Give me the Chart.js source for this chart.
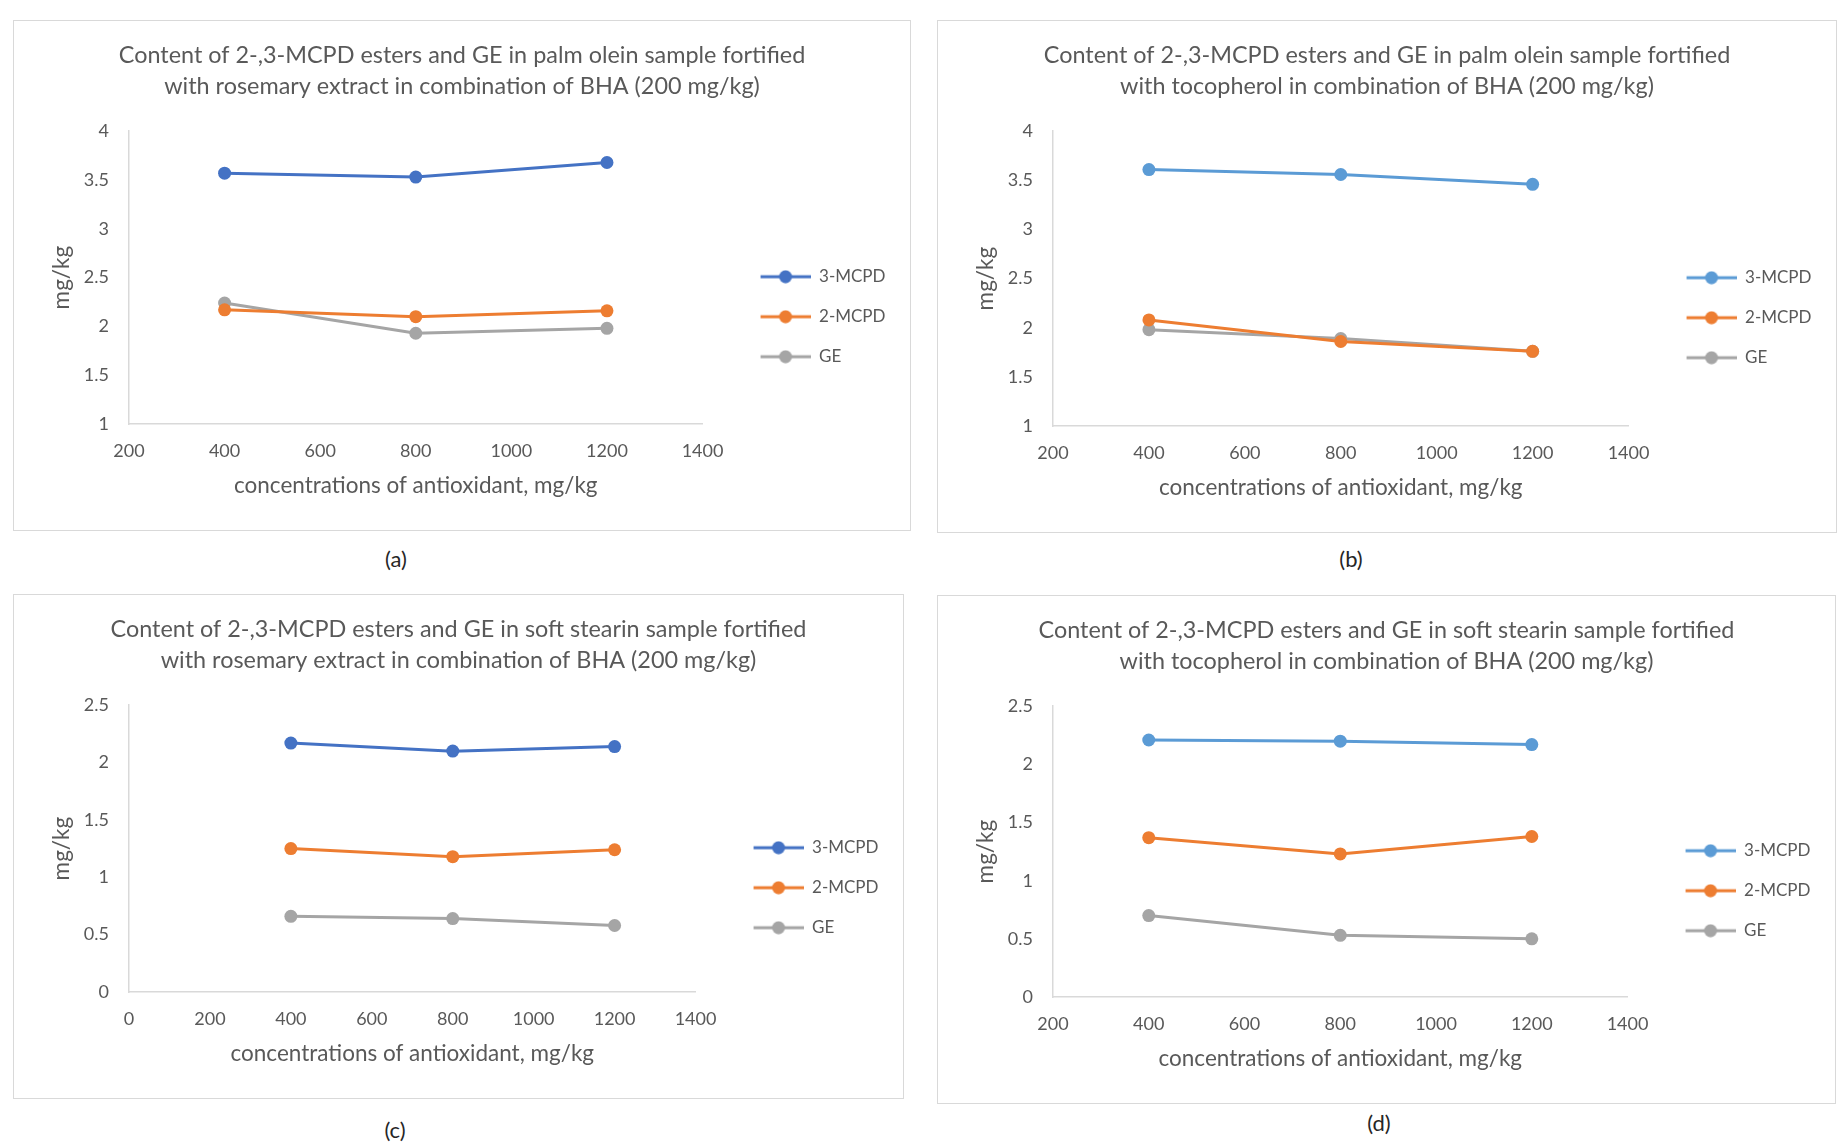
<!DOCTYPE html>
<html>
<head>
    <title>2-,3-MCPD esters and GE</title>
    <script src="https://cdn.jsdelivr.net/npm/chart.js@4.4.5/dist/chart.umd.min.js"></script>
    <style>
        body { margin: 0; background: #fff; width: 1842px; height: 1148px; position: relative; overflow: hidden; font-family: Lato, sans-serif; }
        .panel { position: absolute; border: 1px solid #d9d9d9; box-sizing: border-box; }
        .cap { position: absolute; font-size: 22px; color: #262626; transform: translate(-50%, -50%); }
    </style>
</head>
<body>
    <div class="panel" style="left:13px;top:20px;width:898px;height:511px"><canvas id="chartA"></canvas></div>
    <div class="panel" style="left:937px;top:20px;width:900px;height:513px"><canvas id="chartB"></canvas></div>
    <div class="panel" style="left:13px;top:594px;width:891px;height:505px"><canvas id="chartC"></canvas></div>
    <div class="panel" style="left:937px;top:595px;width:899px;height:509px"><canvas id="chartD"></canvas></div>
    <div class="cap" style="left:396px;top:558px">(a)</div>
    <div class="cap" style="left:1351px;top:558px">(b)</div>
    <div class="cap" style="left:395px;top:1129px">(c)</div>
    <div class="cap" style="left:1379px;top:1122px">(d)</div>

    <script>
        // x values (mg/kg antioxidant) and series names
        const concentrations = [400, 800, 1200];
        const seriesNames = ['3-MCPD', '2-MCPD', 'GE'];

        // (a) palm olein, rosemary extract + BHA
        const oleinRosemary3MCPD = [3.57, 3.53, 3.68];
        const oleinRosemary2MCPD = [2.17, 2.10, 2.16];
        const oleinRosemaryGE = [2.24, 1.93, 1.98];

        // (b) palm olein, tocopherol + BHA
        const oleinToco3MCPD = [3.61, 3.56, 3.46];
        const oleinToco2MCPD = [2.08, 1.86, 1.76];
        const oleinTocoGE = [1.98, 1.89, 1.76];

        // (c) soft stearin, rosemary extract + BHA
        const stearinRosemary3MCPD = [2.17, 2.10, 2.14];
        const stearinRosemary2MCPD = [1.25, 1.18, 1.24];
        const stearinRosemaryGE = [0.66, 0.64, 0.58];

        // (d) soft stearin, tocopherol + BHA
        const stearinToco3MCPD = [2.21, 2.20, 2.17];
        const stearinToco2MCPD = [1.37, 1.23, 1.38];
        const stearinTocoGE = [0.70, 0.53, 0.50];

        const textColor = '#595959';
        const axisColor = '#d9d9d9';

        // legend marker: line with a dot; blank space on the left keeps it away from the plot
        const iconGap = 35;
        function legendIcon(color) {
            const c = document.createElement('canvas');
            c.width = iconGap + 50; c.height = 14;
            const g = c.getContext('2d');
            g.strokeStyle = color; g.lineWidth = 3;
            g.beginPath(); g.moveTo(iconGap, 7); g.lineTo(iconGap + 50, 7); g.stroke();
            g.fillStyle = color;
            g.beginPath(); g.arc(iconGap + 25, 7, 6.5, 0, Math.PI * 2); g.fill();
            return c;
        }

        function makeChart(id, title, series, colors, xMin, yMin, yMax) {
            const datasets = series.map((vals, i) => ({
                label: seriesNames[i],
                data: vals.map((v, j) => ({ x: concentrations[j], y: v })),
                borderColor: colors[i],
                backgroundColor: colors[i],
                borderWidth: 3,
                pointRadius: 6.5,
                pointBorderWidth: 0,
                pointHoverRadius: 6.5
            }));
            return new Chart(document.getElementById(id), {
                type: 'line',
                data: { datasets: datasets },
                options: {
                    responsive: true,
                    maintainAspectRatio: false,
                    animation: false,
                    // same padding both sides so the title stays centred on the box
                    layout: { padding: { left: 14.5, right: 14.5, top: 0, bottom: 0 } },
                    plugins: {
                        title: {
                            display: true,
                            text: title,
                            color: textColor,
                            font: { family: 'Lato', size: 23.4, weight: 'normal', lineHeight: 1.33 },
                            padding: { top: 19, bottom: 29 }
                        },
                        legend: {
                            position: 'right',
                            // empty legend title only pushes the items down a bit
                            title: { display: true, text: ' ', font: { size: 12 }, padding: { top: 0, bottom: 68 } },
                            labels: {
                                usePointStyle: true,
                                pointStyleWidth: iconGap + 50,
                                color: textColor,
                                font: { family: 'Lato', size: 17 },
                                padding: 23,
                                generateLabels: chart => {
                                    const items = Chart.defaults.plugins.legend.labels.generateLabels(chart);
                                    items.forEach((it, i) => { it.pointStyle = legendIcon(colors[i]); });
                                    return items;
                                }
                            }
                        },
                        tooltip: { enabled: false }
                    },
                    scales: {
                        x: {
                            type: 'linear',
                            min: xMin, max: 1400,
                            ticks: { stepSize: 200, color: textColor, font: { family: 'Lato', size: 18 }, padding: 16, callback: v => String(v) },
                            grid: { display: false, drawTicks: false },
                            border: { display: true, color: axisColor, width: 1.5 },
                            title: { display: true, text: 'concentrations of antioxidant, mg/kg', color: textColor, font: { family: 'Lato', size: 22.5 }, padding: { bottom: 31 } },
                            afterFit: s => { s.height = 106; }
                        },
                        y: {
                            min: yMin, max: yMax,
                            ticks: { stepSize: 0.5, color: textColor, font: { family: 'Lato', size: 18 }, padding: 20, callback: v => String(v) },
                            grid: { display: false, drawTicks: false },
                            border: { display: true, color: axisColor, width: 1.5 },
                            title: { display: true, text: 'mg/kg', color: textColor, font: { family: 'Lato', size: 22.5 }, padding: { top: 19.5 } },
                            afterFit: s => { s.width = 100.5; }
                        }
                    }
                }
            });
        }

        const darkSet = ['#4472c4', '#ed7d31', '#a5a5a5'];
        const lightSet = ['#5b9bd5', '#ed7d31', '#a5a5a5'];

        makeChart('chartA',
            ['Content of 2-,3-MCPD esters and GE in palm olein sample fortified', 'with rosemary extract in combination of BHA (200 mg/kg)'],
            [oleinRosemary3MCPD, oleinRosemary2MCPD, oleinRosemaryGE], darkSet, 200, 1, 4);
        makeChart('chartB',
            ['Content of 2-,3-MCPD esters and GE in palm olein sample fortified', 'with tocopherol in combination of BHA (200 mg/kg)'],
            [oleinToco3MCPD, oleinToco2MCPD, oleinTocoGE], lightSet, 200, 1, 4);
        makeChart('chartC',
            ['Content of 2-,3-MCPD esters and GE in soft stearin sample fortified', 'with rosemary extract in combination of BHA (200 mg/kg)'],
            [stearinRosemary3MCPD, stearinRosemary2MCPD, stearinRosemaryGE], darkSet, 0, 0, 2.5);
        makeChart('chartD',
            ['Content of 2-,3-MCPD esters and GE in soft stearin sample fortified', 'with tocopherol in combination of BHA (200 mg/kg)'],
            [stearinToco3MCPD, stearinToco2MCPD, stearinTocoGE], lightSet, 200, 0, 2.5);
    </script>
</body>
</html>
